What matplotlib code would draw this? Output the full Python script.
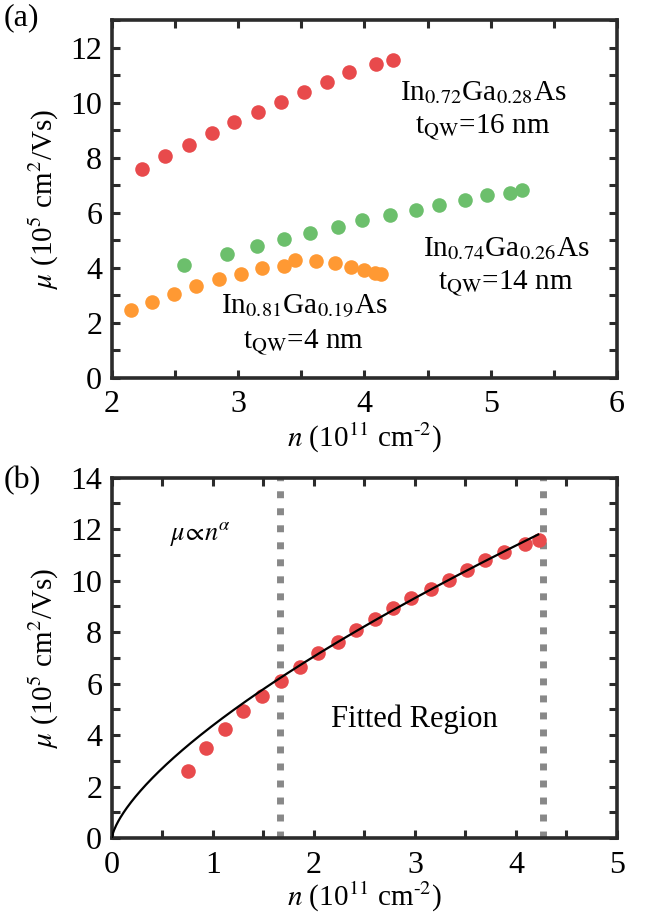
import numpy as np
import matplotlib
matplotlib.use("Agg")
import matplotlib.pyplot as plt
from matplotlib.ticker import MultipleLocator

plt.rcParams['font.family'] = ['Liberation Serif', 'DejaVu Serif']
plt.rcParams['mathtext.fontset'] = 'stix'

# (a) In0.72Ga0.28As, 16 nm
n_a72 = [2.24, 2.42, 2.61, 2.79, 2.97, 3.16, 3.34, 3.52, 3.70, 3.88, 4.09, 4.23]
mu_a72 = [7.60, 8.08, 8.48, 8.90, 9.31, 9.65, 10.01, 10.39, 10.76, 11.10, 11.40, 11.54]
# (a) In0.74Ga0.26As, 14 nm
n_a74 = [2.57, 2.91, 3.15, 3.36, 3.57, 3.79, 3.98, 4.20, 4.41, 4.59, 4.80, 4.97, 5.15, 5.25]
mu_a74 = [4.10, 4.50, 4.80, 5.04, 5.28, 5.49, 5.72, 5.90, 6.09, 6.28, 6.47, 6.63, 6.73, 6.83]
# (a) In0.81Ga0.19As, 4 nm
n_a81 = [2.15, 2.32, 2.49, 2.67, 2.85, 3.02, 3.19, 3.36, 3.45, 3.62, 3.77, 3.89, 4.00, 4.08, 4.13]
mu_a81 = [2.45, 2.76, 3.05, 3.34, 3.58, 3.78, 4.00, 4.08, 4.29, 4.26, 4.16, 4.04, 3.92, 3.82, 3.78]

# (b) In0.72Ga0.28As with power-law fit
n_b = [0.75, 0.93, 1.12, 1.30, 1.49, 1.67, 1.86, 2.04, 2.24, 2.42, 2.60, 2.78, 2.96, 3.16,
       3.34, 3.52, 3.69, 3.88, 4.09, 4.23]
mu_b = [2.62, 3.49, 4.24, 4.92, 5.51, 6.12, 6.64, 7.20, 7.62, 8.10, 8.51, 8.95, 9.34, 9.69,
        10.04, 10.42, 10.81, 11.12, 11.42, 11.57]
fit_prefactor = 4.38
fit_alpha = 0.688
fit_nmax = 4.22
fit_bounds = [1.66, 4.27]

red = '#e84a4c'
green = '#6cbf6c'
orange = '#ff9933'
spine_c = '#2b2b2b'

fig = plt.figure(figsize=(6.62, 9.17), dpi=100)
ax1 = fig.add_axes([0.169, 0.588, 0.763, 0.390])
ax2 = fig.add_axes([0.169, 0.086, 0.763, 0.393])

xlab = r'$n$ (10$^{11}$ cm$^{\text{-}2}$)'
ylab = r'$\mu$ (10$^5$ cm$^2$/Vs)'


def style(ax):
    for s in ax.spines.values():
        s.set_linewidth(2.6)
        s.set_color(spine_c)
    ax.tick_params(which='both', direction='in', top=True, right=True,
                   width=2.2, length=6, color=spine_c, labelsize=23)
    ax.tick_params(axis='x', which='both', pad=9)
    ax.tick_params(axis='y', which='both', pad=7)
    ax.xaxis.set_minor_locator(MultipleLocator(0.5))
    ax.yaxis.set_minor_locator(MultipleLocator(1))
    ax.yaxis.set_major_locator(MultipleLocator(2))
    ax.xaxis.set_major_locator(MultipleLocator(1))
    ax.set_ylabel(ylab, fontsize=21)
    ax.set_xlabel(xlab, fontsize=21)


ms = 110
ax1.scatter(n_a72, mu_a72, s=ms, color=red, lw=0, zorder=3)
ax1.scatter(n_a74, mu_a74, s=ms, color=green, lw=0, zorder=3)
ax1.scatter(n_a81, mu_a81, s=ms, color=orange, lw=0, zorder=3)
ax1.set_xlim(2, 6)
ax1.set_ylim(0, 13)
style(ax1)

fs = 21
ax1.text(4.94, 10.37, r'In$_{0.72}$Ga$_{0.28}$As', fontsize=fs, ha='center', va='center')
ax1.text(4.94, 9.11, r't$_{\rm QW}$=16 nm', fontsize=fs, ha='center', va='center')
ax1.text(5.12, 4.70, r'In$_{0.74}$Ga$_{0.26}$As', fontsize=fs, ha='center', va='center')
ax1.text(5.12, 3.44, r't$_{\rm QW}$=14 nm', fontsize=fs, ha='center', va='center')
ax1.text(3.52, 2.59, r'In$_{0.81}$Ga$_{0.19}$As', fontsize=fs, ha='center', va='center')
ax1.text(3.52, 1.27, r't$_{\rm QW}$=4 nm', fontsize=fs, ha='center', va='center')

# panel b
nfit = np.linspace(0, fit_nmax, 400)
ax2.plot(nfit, fit_prefactor * nfit ** fit_alpha, color='black', lw=1.6, zorder=4)
ax2.scatter(n_b, mu_b, s=ms, color=red, lw=0, zorder=3)
for xb in fit_bounds:
    ax2.axvline(xb, color='#888888', lw=5, ls=(0, (1.0, 1.45)), zorder=2)
ax2.set_xlim(0, 5)
ax2.set_ylim(0, 14)
style(ax2)
ax2.text(0.88, 11.8, r'$\mu\!\propto\! n^{\alpha}$', fontsize=19, ha='center', va='center')
ax2.text(2.99, 4.61, 'Fitted Region', fontsize=22, ha='center', va='center')

for ax in (ax1, ax2):
    ax.yaxis.set_label_coords(-0.10, 0.5)
ax1.xaxis.set_label_coords(0.5, -0.12)
ax2.xaxis.set_label_coords(0.5, -0.115)

fig.text(0.006, 0.996, '(a)', fontsize=23, ha='left', va='top')
fig.text(0.006, 0.492, '(b)', fontsize=23, ha='left', va='top')

fig.savefig('out.png', dpi=100)
